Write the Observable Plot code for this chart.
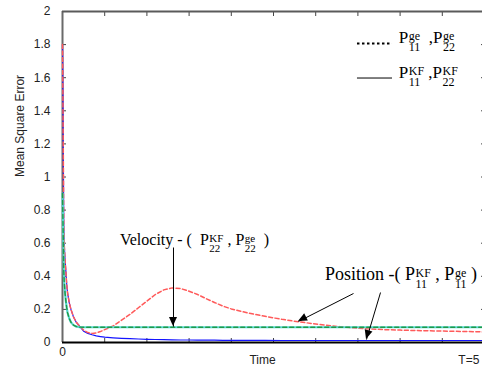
<!DOCTYPE html>
<html><head><meta charset="utf-8">
<script src="https://cdn.jsdelivr.net/npm/d3@7"></script>
<script src="https://cdn.jsdelivr.net/npm/@observablehq/plot@0.6"></script>
<style>
html,body{margin:0;padding:0;background:#fff;}
svg{display:block;}
</style></head><body>
<script>
// ---- data ----
const time  = [0, 0.005, 0.01, 0.015, 0.02, 0.03, 0.04, 0.05, 0.06, 0.08, 0.1, 0.13, 0.16, 0.2, 0.25, 0.3, 0.35, 0.4, 0.45, 0.5, 0.6, 0.7, 0.8, 0.9, 1.0, 1.1, 1.2, 1.3, 1.4, 1.5, 1.6, 1.7, 1.8, 1.9, 2.0, 2.2, 2.4, 2.6, 2.8, 3.0, 3.2, 3.4, 3.6, 3.8, 4.0, 4.2, 4.4, 4.6, 4.8, 5.0];
// Position, generalized estimator P11ge (red dashed)
const posGe = [1.8, 1.5, 1.1, 0.72, 0.6, 0.5, 0.43, 0.35, 0.3, 0.24, 0.2, 0.155, 0.125, 0.1, 0.075, 0.06, 0.055, 0.058, 0.066, 0.078, 0.1, 0.135, 0.17, 0.21, 0.25, 0.29, 0.318, 0.33, 0.326, 0.31, 0.29, 0.265, 0.242, 0.22, 0.203, 0.178, 0.158, 0.14, 0.125, 0.112, 0.1, 0.09, 0.083, 0.078, 0.075, 0.072, 0.07, 0.068, 0.066, 0.064];
// Position, Kalman filter P11KF (blue solid)
const posKF = [1.8, 1.5, 1.1, 0.72, 0.6, 0.5, 0.43, 0.35, 0.3, 0.24, 0.2, 0.155, 0.125, 0.1, 0.068, 0.055, 0.047, 0.04, 0.036, 0.032, 0.028, 0.025, 0.023, 0.021, 0.019, 0.018, 0.017, 0.016, 0.015, 0.015, 0.014, 0.014, 0.014, 0.013, 0.013, 0.013, 0.013, 0.012, 0.012, 0.012, 0.012, 0.012, 0.012, 0.012, 0.012, 0.012, 0.012, 0.012, 0.012, 0.012];
// Velocity, Kalman filter P22KF (green)
const velKF = [0.9, 0.75, 0.6, 0.43, 0.37, 0.3, 0.25, 0.21, 0.18, 0.145, 0.122, 0.105, 0.097, 0.093, 0.092, 0.092, 0.092, 0.092, 0.092, 0.092, 0.092, 0.092, 0.092, 0.092, 0.092, 0.092, 0.092, 0.092, 0.092, 0.092, 0.092, 0.092, 0.092, 0.092, 0.092, 0.092, 0.092, 0.092, 0.092, 0.092, 0.092, 0.092, 0.092, 0.092, 0.092, 0.092, 0.092, 0.092, 0.092, 0.092];
// Velocity, generalized estimator P22ge (cyan)
const velGe = [0.9, 0.75, 0.6, 0.43, 0.37, 0.3, 0.25, 0.21, 0.18, 0.145, 0.122, 0.105, 0.097, 0.093, 0.092, 0.092, 0.092, 0.092, 0.092, 0.092, 0.092, 0.092, 0.092, 0.092, 0.092, 0.092, 0.092, 0.092, 0.092, 0.092, 0.092, 0.092, 0.092, 0.092, 0.092, 0.092, 0.092, 0.092, 0.092, 0.092, 0.092, 0.092, 0.092, 0.092, 0.092, 0.092, 0.092, 0.092, 0.092, 0.092];

const yTicks = [0, 0.2, 0.4, 0.6, 0.8, 1, 1.2, 1.4, 1.6, 1.8, 2];
const yTickLabels = ["0", "0.2", "0.4", "0.6", "0.8", "1", "1.2", "1.4", "1.6", "1.8", "2"];
const xTicks = [0, 0.5, 1, 1.5, 2, 2.5, 3, 3.5, 4, 4.5, 5];
const xTickLabels = ["0", "", "", "", "", "", "", "", "", "", ""];
const yLabel = "Mean Square Error";
const xLabel = {text: "Time", t: 2.37};
const endLabel = {text: "T=5", t: 4.69};

// annotations (data coordinates)
const arrows = [
  {x1: 1.315, y1: 0.574, x2: 1.315, y2: 0.096},
  {x1: 3.448, y1: 0.296, x2: 2.796, y2: 0.127},
  {x1: 3.768, y1: 0.302, x2: 3.602, y2: 0.018}
];
const velocityLabel = ["Velocity - (  ", ["P", "22", "KF"], " , ", ["P", "22", "ge"], "  )"];
const positionLabel = ["Position -( ", ["P", "11", "KF"], " , ", ["P", "11", "ge"], " )"];
const legendRows = [
  {dash: true,  v: 1.806, parts: [["P", "11", "ge"], "  ,", ["P", "22", "ge"]]},
  {dash: false, v: 1.598, parts: [["P", "11", "KF"], " ,", ["P", "22", "KF"]]}
];
const legendLine = {t1: 3.495, t2: 3.91, tText: 3.99};

const rows = time.map((t, i) => ({t, posGe: posGe[i], posKF: posKF[i], velKF: velKF[i], velGe: velGe[i]}));

const svg = Plot.plot({
  width: 482, height: 367,
  marginLeft: 62, marginRight: -2, marginTop: 11, marginBottom: 25,
  style: {fontFamily: "'Liberation Sans', Arial, sans-serif", fontSize: "12px", color: "#222"},
  x: {domain: [0, 5]},
  y: {domain: [0, 2]},
  marks: [
    Plot.axisY({ticks: yTicks, tickSize: -4, tickPadding: 16, tickFormat: d => yTickLabels[yTicks.indexOf(d)], label: null, stroke: "#444", fill: "#222"}),
    Plot.axisY({anchor: "right", ticks: yTicks, tickSize: -4, tickFormat: () => "", label: null, stroke: "#444"}),
    Plot.axisX({ticks: xTicks, tickSize: -4, tickPadding: 9, tickFormat: d => xTickLabels[xTicks.indexOf(d)], label: null, stroke: "#444", fill: "#222"}),
    Plot.axisX({anchor: "top", ticks: xTicks, tickSize: -4, tickFormat: () => "", label: null, stroke: "#444"}),
    Plot.ruleX([0], {stroke: "#6a6a6a", strokeWidth: 2}),
    Plot.ruleY([0], {stroke: "#000", strokeWidth: 2}),
    Plot.line(rows, {x: "t", y: "posKF", stroke: "#1414ff", strokeWidth: 1.2}),
    Plot.line(rows, {x: "t", y: "posGe", stroke: "#ff5a5a", strokeWidth: 1.5, strokeDasharray: "4,2.5"}),
    Plot.line(rows, {x: "t", y: "velGe", stroke: "#58d8d0", strokeWidth: 2.2}),
    Plot.line(rows, {x: "t", y: "velKF", stroke: "#1f9a48", strokeWidth: 1.4, strokeDasharray: "4,3"}),
    Plot.link(arrows, {x1: "x1", y1: "y1", x2: "x2", y2: "y2", stroke: "#000", strokeWidth: 1}),
    Plot.ruleY(legendRows.filter(d => d.dash), {y: "v", x1: legendLine.t1, x2: legendLine.t2, stroke: "#000", strokeWidth: 2, strokeDasharray: "2.5,2.5"}),
    Plot.ruleY(legendRows.filter(d => !d.dash), {y: "v", x1: legendLine.t1, x2: legendLine.t2, stroke: "#000", strokeWidth: 1}),
    Plot.text([yLabel], {frameAnchor: "left", rotate: -90, dx: -42, fontSize: 12, fill: "#222"}),
    Plot.text([xLabel], {x: "t", y: () => 0, text: "text", textAnchor: "middle", dy: 18, fontSize: 12, fill: "#222"}),
    Plot.text([endLabel], {x: "t", y: () => 0, text: "text", textAnchor: "start", dy: 18, fontSize: 12, fill: "#222"}),
    Plot.ruleY([2], {stroke: "#5a5a5a", strokeWidth: 2})
  ]
});
document.body.append(svg);

const sx = svg.scale("x"), sy = svg.scale("y");

// filled arrow heads at the tips of the annotation arrows
const heads = d3.select(svg).append("g").attr("fill", "#000");
for (const a of arrows) {
  const x1 = sx.apply(a.x1), y1 = sy.apply(a.y1), x2 = sx.apply(a.x2), y2 = sy.apply(a.y2);
  const ang = Math.atan2(y2 - y1, x2 - x1), L = 9, W = 4;
  const bx = x2 - L * Math.cos(ang), by = y2 - L * Math.sin(ang);
  const px = -Math.sin(ang) * W, py = Math.cos(ang) * W;
  heads.append("path").attr("d", `M${x2},${y2}L${bx + px},${by + py}L${bx - px},${by - py}Z`);
}

const serif = "'Liberation Serif', 'Times New Roman', serif";
function richText(parts, t, v, o) {
  const g = d3.select(svg).append("g").attr("fill", "#000");
  let x = sx.apply(t);
  const y = sy.apply(v);
  const add = (str, xx, yy, size) => g.append("text")
    .attr("x", xx).attr("y", yy)
    .style("font-family", serif).style("font-size", size + "px")
    .style("text-anchor", "start").style("white-space", "pre")
    .text(str);
  for (const p of parts) {
    if (typeof p === "string") {
      x += add(p, x, y, o.size).node().getComputedTextLength();
    } else {
      x += add(p[0], x, y, o.size).node().getComputedTextLength() + 0.5;
      const w1 = add(p[1], x, y + o.subDy, o.small).node().getComputedTextLength();
      const w2 = add(p[2], x, y + o.supDy, o.small).node().getComputedTextLength();
      x += Math.max(w1, w2);
    }
  }
}
richText(velocityLabel, 0.687, 0.586, {size: 16, small: 11, subDy: 7, supDy: -3});
richText(positionLabel, 3.116, 0.375, {size: 18, small: 12, subDy: 8, supDy: -3});
for (const r of legendRows) richText(r.parts, legendLine.tText, r.v, {size: 17, small: 12, subDy: 8, supDy: -3});
</script>
</body></html>
